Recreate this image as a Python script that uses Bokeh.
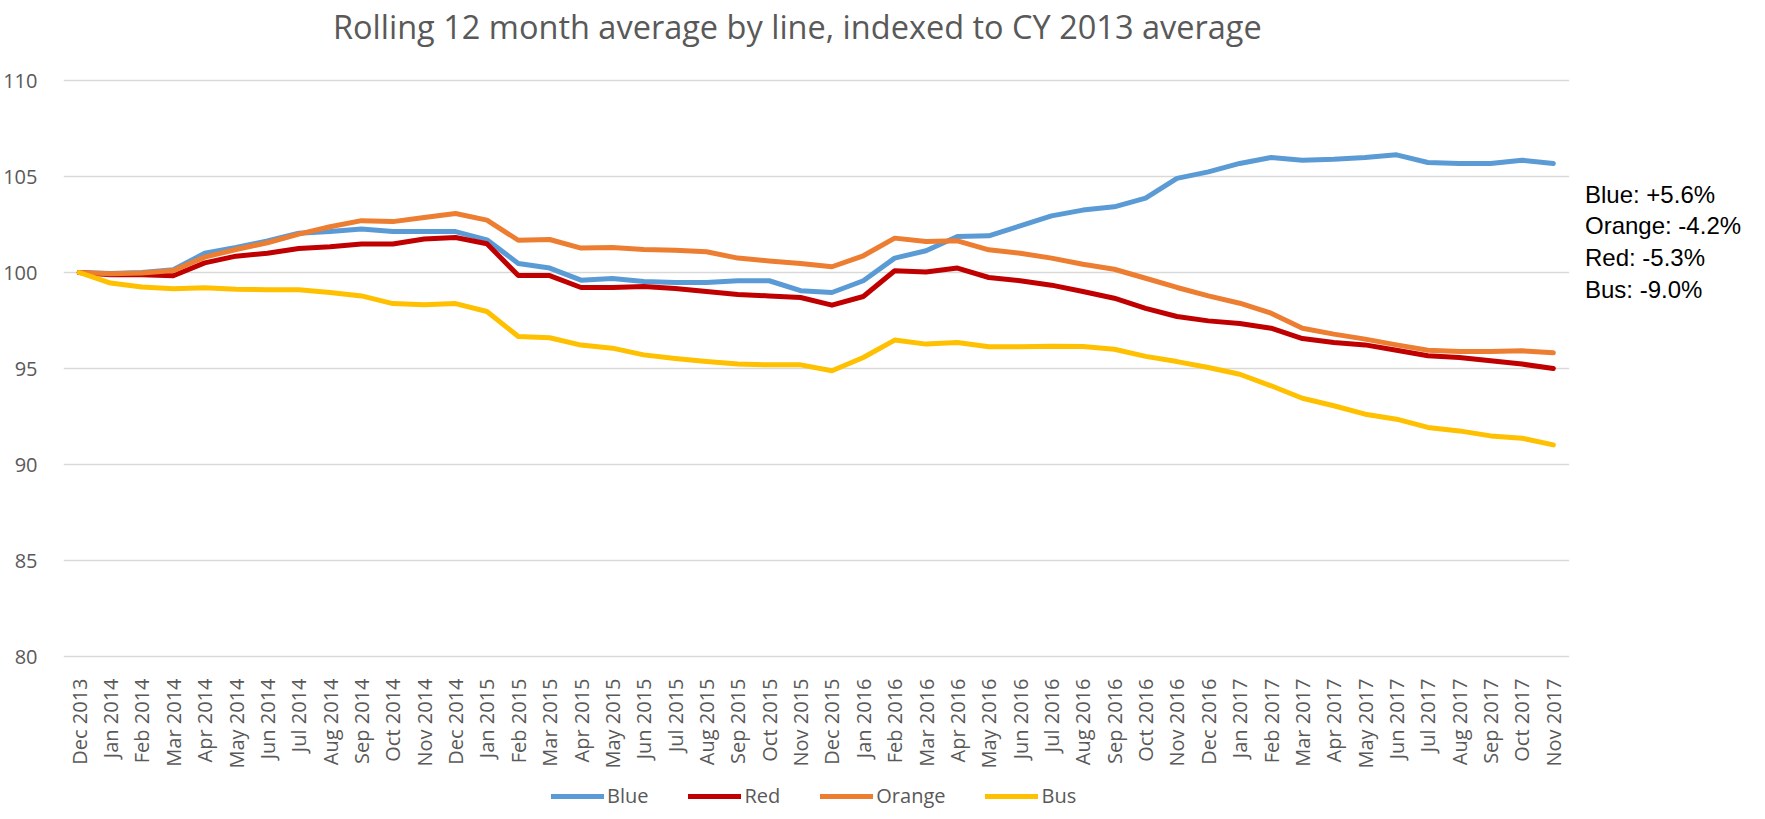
from bokeh.plotting import figure
from bokeh.models import Range1d, FixedTicker, Legend, LegendItem
from bokeh.core.properties import value
from bokeh.embed import file_html
from bokeh.resources import INLINE
import math

months = ["Dec 2013", "Jan 2014", "Feb 2014", "Mar 2014", "Apr 2014", "May 2014", "Jun 2014",
          "Jul 2014", "Aug 2014", "Sep 2014", "Oct 2014", "Nov 2014", "Dec 2014", "Jan 2015",
          "Feb 2015", "Mar 2015", "Apr 2015", "May 2015", "Jun 2015", "Jul 2015", "Aug 2015",
          "Sep 2015", "Oct 2015", "Nov 2015", "Dec 2015", "Jan 2016", "Feb 2016", "Mar 2016",
          "Apr 2016", "May 2016", "Jun 2016", "Jul 2016", "Aug 2016", "Sep 2016", "Oct 2016",
          "Nov 2016", "Dec 2016", "Jan 2017", "Feb 2017", "Mar 2017", "Apr 2017", "May 2017",
          "Jun 2017", "Jul 2017", "Aug 2017", "Sep 2017", "Oct 2017", "Nov 2017"]

blue = [100.0, 99.95, 100.0, 100.15, 101.0, 101.3, 101.65, 102.05, 102.13, 102.27, 102.13, 102.13,
        102.13, 101.7, 100.47, 100.23, 99.6, 99.69, 99.53, 99.48, 99.48, 99.57, 99.57, 99.05,
        98.96, 99.57, 100.75, 101.13, 101.88, 101.91, 102.43, 102.95, 103.25, 103.42, 103.87, 104.9,
        105.24, 105.68, 105.99, 105.85, 105.9, 105.99, 106.13, 105.73, 105.68, 105.68, 105.85, 105.68]
red = [100.0, 99.88, 99.88, 99.83, 100.5, 100.85, 101.0, 101.25, 101.34, 101.48, 101.48, 101.74,
       101.82, 101.5, 99.84, 99.84, 99.22, 99.22, 99.27, 99.17, 99.01, 98.85, 98.78, 98.7,
       98.3, 98.75, 100.09, 100.03, 100.23, 99.74, 99.57, 99.34, 99.01, 98.66, 98.13, 97.71,
       97.48, 97.34, 97.1, 96.56, 96.35, 96.23, 95.95, 95.66, 95.57, 95.4, 95.23, 95.0]
orange = [100.0, 99.93, 99.97, 100.1, 100.8, 101.2, 101.55, 102.0, 102.38, 102.7, 102.65, 102.86,
          103.07, 102.73, 101.68, 101.72, 101.27, 101.3, 101.2, 101.16, 101.08, 100.75, 100.6, 100.47,
          100.3, 100.87, 101.79, 101.61, 101.65, 101.18, 101.0, 100.75, 100.43, 100.17, 99.7, 99.22,
          98.78, 98.4, 97.88, 97.1, 96.79, 96.53, 96.23, 95.95, 95.89, 95.89, 95.92, 95.82]
bus = [100.0, 99.45, 99.25, 99.15, 99.2, 99.13, 99.1, 99.1, 98.96, 98.78, 98.38, 98.32,
       98.38, 97.97, 96.67, 96.6, 96.22, 96.06, 95.71, 95.52, 95.36, 95.23, 95.19, 95.19,
       94.88, 95.57, 96.48, 96.27, 96.35, 96.13, 96.13, 96.16, 96.15, 96.0, 95.63, 95.36,
       95.05, 94.7, 94.1, 93.45, 93.06, 92.62, 92.36, 91.93, 91.75, 91.49, 91.37, 91.02]

series_names = ["Blue", "Red", "Orange", "Bus"]
series_colors = ["#5B9BD5", "#C00000", "#ED7D31", "#FFC000"]
annotations = ["Blue: +5.6%", "Orange: -4.2%", "Red: -5.3%", "Bus: -9.0%"]
title_text = "Rolling 12 month average by line, indexed to CY 2013 average"
y_ticks = [80, 85, 90, 95, 100, 105, 110]

TXT = "#595959"
FONT = "Open Sans"

# layout (pixels inside the canvas)
W, H = 1749, 811
LEFT = 58
TOP_110, BOTTOM_80 = 80, 656      # where the 110 and 80 gridlines sit
n = len(months)
px_per_x = 1510.0 / n
px_per_y = (BOTTOM_80 - TOP_110) / 30.0
x_lo = -0.5
x_hi = x_lo + (W - LEFT) / px_per_x
y_hi = 110 + TOP_110 / px_per_y
y_lo = 80 - (H - BOTTOM_80) / px_per_y


def dx(px):
    return x_lo + (px - LEFT) / px_per_x


def dy(py):
    return y_hi - py / px_per_y


p = figure(width=W, height=H, x_range=Range1d(x_lo, x_hi), y_range=Range1d(y_lo, y_hi),
           output_backend="svg", toolbar_location=None,
           min_border_left=LEFT, min_border_top=0, min_border_right=0, min_border_bottom=0)

p.outline_line_color = None
p.xgrid.grid_line_color = None
p.ygrid.grid_line_color = None

p.yaxis.ticker = FixedTicker(ticks=y_ticks)
p.yaxis.axis_line_color = None
p.yaxis.major_tick_line_color = None
p.yaxis.minor_tick_line_color = None
p.yaxis.major_label_text_font = FONT
p.yaxis.major_label_text_font_size = "20px"
p.yaxis.major_label_text_color = TXT
p.yaxis.major_label_standoff = 20

xs = list(range(n))
p.xaxis.fixed_location = 80
p.xaxis.ticker = FixedTicker(ticks=xs)
p.xaxis.major_label_overrides = {i: m for i, m in enumerate(months)}
p.xaxis.major_label_orientation = math.pi / 2
p.xaxis.axis_line_color = None
p.xaxis.major_tick_line_color = None
p.xaxis.minor_tick_line_color = None
p.xaxis.major_label_text_font = FONT
p.xaxis.major_label_text_font_size = "20px"
p.xaxis.major_label_text_color = TXT
p.xaxis.major_label_standoff = 16

# horizontal gridlines across the chart area only
p.segment(x0=[x_lo] * len(y_ticks), x1=[n - 0.5] * len(y_ticks), y0=y_ticks, y1=y_ticks,
          line_color="#D9D9D9", line_width=1.5)

items = []
for name, color, vals in zip(series_names, series_colors, [blue, red, orange, bus]):
    r = p.line(xs, vals, line_color=color, line_width=5, line_cap="round", line_join="round")
    items.append(LegendItem(label=name, renderers=[r]))

legend = Legend(items=items, orientation="horizontal", location=(488, 2), margin=0,
                glyph_width=53, glyph_height=20, label_standoff=3, spacing=40, padding=2,
                label_text_font=FONT, label_text_font_size="20px", label_text_color=TXT,
                border_line_color=None, background_fill_alpha=0, label_height=20)
p.add_layout(legend, "center")

# title
p.text(x=[dx(794)], y=[dy(26)], text=[title_text], text_font=value(FONT),
       text_font_size=value("32.5px"), text_color=TXT, text_align="center",
       text_baseline="alphabetic")

# side annotations
base0, step = 193.5, 31.8
p.text(x=[dx(1584)] * len(annotations),
       y=[dy(base0 + k * step) for k in range(len(annotations))],
       text=annotations, text_font=value("Liberation Sans"), text_font_size=value("24px"),
       text_color="#000000", text_align="left", text_baseline="alphabetic")

open("out.html", "w").write(file_html(p, INLINE))
